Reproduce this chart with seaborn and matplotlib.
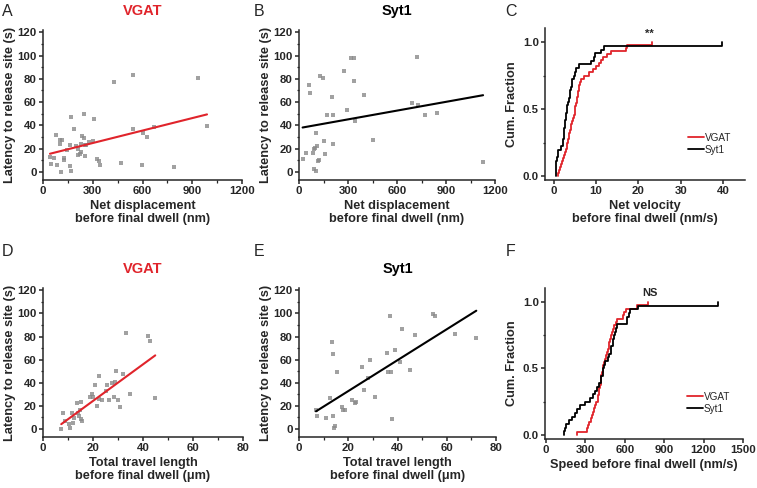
import matplotlib
matplotlib.use("Agg")
import matplotlib.pyplot as plt
from matplotlib.ticker import MultipleLocator
import seaborn as sns

# ---- data ----
# A: VGAT, net displacement (nm) vs latency (s)
vgat_disp = [42, 50, 68, 76, 86, 100, 102, 117, 110, 127, 127, 147, 163, 165, 169, 171,
             189, 199, 211, 211, 221, 231, 231, 235, 249, 251, 247, 251, 259, 277, 304,
             306, 324, 336, 346, 426, 470, 541, 545, 599, 601, 625, 669, 792, 935, 989]
vgat_lat_a = [12.6, 6.9, 11.7, 31.4, 6.0, 24.0, 27.7, 27.7, 0.3, 11.7, 10.3, 18.9, 23.0,
              4.9, 46.9, 0.9, 36.6, 22.3, 19.7, 14.6, 15.1, 17.0, 23.7, 30.9, 28.9, 13.7,
              49.4, 23.0, 23.0, 26.0, 26.9, 45.4, 11.1, 9.1, 6.0, 76.9, 7.4, 83.1, 36.9,
              6.0, 33.7, 29.7, 38.3, 4.0, 81.1, 39.4]

# B: Syt1, net displacement (nm) vs latency (s)
syt1_disp = [22, 43, 61, 70, 84, 94, 96, 104, 112, 92, 104, 117, 121, 131, 145, 151, 159,
             172, 200, 209, 211, 274, 292, 319, 337, 337, 344, 401, 452, 689, 720, 728,
             769, 845, 1127]
syt1_lat_b = [10.7, 15.8, 74.6, 68.1, 16.1, 19.5, 20.6, 33.0, 22.0, 2.8, 0.8, 9.6, 10.5,
              82.5, 80.8, 26.6, 15.5, 48.9, 64.7, 48.9, 24.3, 86.4, 53.1, 97.5, 97.5, 78.5,
              43.8, 65.8, 27.7, 59.6, 99.2, 57.3, 48.6, 50.6, 8.5]

# C: net velocity (nm/s)
vgat_vel = [1.0, 1.2, 1.5, 1.7, 1.9, 2.2, 2.4, 2.6, 2.8, 3.0, 3.2, 3.35, 3.5, 3.65, 3.8,
            3.95, 4.1, 4.3, 4.5, 4.7, 4.9, 5.0, 5.1, 5.2, 5.35, 5.5, 5.65, 5.8, 5.9, 6.0,
            6.15, 6.3, 7.1, 8.3, 9.3, 9.9, 10.7, 11.1, 11.5, 12.5, 13.4, 17.0, 17.4, 23.1]
syt1_vel = [0.45, 0.5, 0.55, 0.6, 0.8, 0.9, 1.0, 1.6, 2.1, 2.2, 2.3, 2.4, 2.5, 2.6, 2.7,
            2.75, 2.85, 3.0, 3.15, 3.3, 3.5, 3.7, 3.9, 4.1, 4.3, 4.4, 4.8, 5.0, 5.2, 6.0,
            8.8, 9.6, 9.7, 11.1, 11.8, 39.7]

# D: VGAT, total travel length (um) vs latency (s)
vgat_len = [7.3, 8.0, 8.9, 10.5, 10.8, 11.5, 12.1, 12.5, 13.5, 13.9, 14.4, 14.8, 15.1, 15.1,
            15.5, 18.8, 19.6, 20.1, 20.9, 21.7, 22.3, 22.3, 23.5, 25.0, 25.7, 26.3, 27.7,
            28.4, 28.9, 29.3, 30.0, 30.8, 31.9, 33.2, 34.8, 42.0, 42.9, 44.9]
vgat_lat_d = [0.3, 13.4, 6.5, 4.5, 1.1, 14.0, 5.4, 9.7, 22.4, 13.9, 11.1, 16.2, 23.3, 8.5,
              6.8, 27.8, 30.4, 27.6, 38.0, 20.2, 45.5, 25.9, 24.7, 33.0, 38.0, 25.3, 39.5,
              27.8, 40.3, 50.3, 25.0, 19.3, 47.7, 82.7, 29.8, 80.7, 76.4, 26.4]

# E: Syt1, total travel length (um) vs latency (s)
syt1_len = [6.9, 7.3, 10.8, 12.6, 13.4, 13.8, 14.0, 14.2, 14.5, 15.6, 17.4, 17.8, 18.7,
            21.6, 22.8, 23.0, 25.6, 26.3, 28.1, 29.0, 30.8, 35.7, 36.3, 36.9, 37.3, 37.8,
            39.1, 41.1, 41.9, 44.9, 47.2, 54.5, 55.3, 63.4, 72.0]
syt1_lat_e = [16.0, 11.1, 9.4, 27.1, 75.1, 11.1, 65.1, 0.9, 2.9, 49.1, 19.1, 16.0, 16.6,
              24.9, 22.3, 23.1, 53.4, 33.4, 43.7, 60.0, 28.0, 66.0, 49.4, 98.0, 49.1, 8.9,
              68.6, 58.0, 86.9, 51.1, 81.1, 99.7, 98.0, 82.6, 79.1]

# F: speed before final dwell (nm/s)
vgat_speed = [234, 312, 318, 330, 340, 350, 357, 362, 375, 383, 392, 398, 403, 407, 411,
              415, 419, 422, 426, 430, 436, 441, 448, 457, 468, 474, 478, 482, 486, 491,
              500, 508, 518, 530, 540, 585, 592, 609, 690, 779]
syt1_speed = [137, 145, 155, 178, 198, 218, 239, 259, 297, 335, 355, 373, 391, 406, 415,
              422, 430, 437, 445, 452, 472, 482, 492, 498, 508, 512, 518, 523, 530, 538,
              614, 620, 630, 640, 700, 1312]

RED = "#e0242b"
GRAY = "#8a8a8a"

sns.set_style("ticks")
plt.rcParams["font.family"] = ["Liberation Sans", "DejaVu Sans"]
plt.rcParams["font.weight"] = "bold"
plt.rcParams["axes.labelweight"] = "bold"
plt.rcParams["axes.linewidth"] = 1.1
plt.rcParams["xtick.major.width"] = 1.1
plt.rcParams["ytick.major.width"] = 1.1
plt.rcParams["xtick.minor.width"] = 0.9
plt.rcParams["ytick.minor.width"] = 0.9
plt.rcParams["xtick.major.size"] = 3
plt.rcParams["ytick.major.size"] = 3
plt.rcParams["xtick.minor.size"] = 1.8
plt.rcParams["ytick.minor.size"] = 1.8
plt.rcParams["xtick.major.pad"] = 1.5
plt.rcParams["ytick.major.pad"] = 1.5
plt.rcParams["xtick.labelsize"] = 8.2
plt.rcParams["ytick.labelsize"] = 8.2
plt.rcParams["axes.labelsize"] = 9.2

W, H = 757, 488
fig = plt.figure(figsize=(W / 100, H / 100), dpi=100)


def px_axes(x0, x1, ytop, ybot):
    return fig.add_axes([x0 / W, 1 - ybot / H, (x1 - x0) / W, (ybot - ytop) / H])


def style(ax):
    sns.despine(ax=ax)
    for lab in ax.get_xticklabels() + ax.get_yticklabels():
        lab.set_fontweight("bold")


def scatter_panel(ax, x, y, color, xmax, xmajor, xminor, xlabel, title, tcolor):
    sns.regplot(x=x, y=y, ax=ax, ci=None, marker="s", truncate=True,
                scatter_kws=dict(s=9, color=GRAY, linewidths=0),
                line_kws=dict(color=color, lw=1.5))
    ax.set_xlim(0, xmax)
    ax.set_ylim(-7, 122)
    ax.xaxis.set_major_locator(MultipleLocator(xmajor))
    ax.xaxis.set_minor_locator(MultipleLocator(xminor))
    ax.yaxis.set_major_locator(MultipleLocator(20))
    ax.yaxis.set_minor_locator(MultipleLocator(10))
    ax.set_xlabel(xlabel, linespacing=1.1, labelpad=3)
    ax.set_ylabel("Latency to release site (s)", labelpad=1)
    ax.set_title(title, color=tcolor, fontsize=10.5, fontweight="bold", pad=11)
    style(ax)


def ecdf_panel(ax, vg, sy, xlim, xmajor, xlabel, note, note_x):
    sns.ecdfplot(x=vg, ax=ax, color=RED, lw=1.3, label="VGAT")
    sns.ecdfplot(x=sy, ax=ax, color="black", lw=1.3, label="Syt1")
    ax.set_xlim(*xlim)
    ax.set_ylim(-0.03, 1.105)
    ax.xaxis.set_major_locator(MultipleLocator(xmajor))
    ax.yaxis.set_major_locator(MultipleLocator(0.5))
    ax.yaxis.set_minor_locator(MultipleLocator(0.25))
    ax.yaxis.set_major_formatter(matplotlib.ticker.FormatStrFormatter("%.1f"))
    ax.set_xlabel(xlabel, linespacing=1.1, labelpad=3)
    ax.set_ylabel("Cum. Fraction", labelpad=3)
    ax.text(note_x, 1.065, note, ha="center", va="center", fontsize=8, fontweight="bold")
    ax.legend(loc="center left", bbox_to_anchor=(0.715, 0.24), frameon=False,
              handlelength=1.6, handletextpad=0.1, labelspacing=0.2,
              borderpad=0, borderaxespad=0, prop=dict(size=7.2, weight="normal"))
    style(ax)


axA = px_axes(43, 242, 30, 180)
scatter_panel(axA, vgat_disp, vgat_lat_a, RED, 1200, 300, 150,
              "Net displacement\nbefore final dwell (nm)", "VGAT", RED)
axB = px_axes(299, 495, 30, 180)
scatter_panel(axB, syt1_disp, syt1_lat_b, "black", 1200, 300, 150,
              "Net displacement\nbefore final dwell (nm)", "Syt1", "black")
axC = px_axes(545, 745, 28, 180)
ecdf_panel(axC, vgat_vel, syt1_vel, (-2.1, 45.2), 10,
           "Net velocity\nbefore final dwell (nm/s)", "**", 22.5)
axD = px_axes(43, 243, 288, 437)
scatter_panel(axD, vgat_len, vgat_lat_d, RED, 80, 20, 10,
              "Total travel length\nbefore final dwell (\u03bcm)", "VGAT", RED)
axE = px_axes(299, 496, 288, 437)
scatter_panel(axE, syt1_len, syt1_lat_e, "black", 80, 20, 10,
              "Total travel length\nbefore final dwell (\u03bcm)", "Syt1", "black")
axF = px_axes(545, 743, 288, 439)
ecdf_panel(axF, vgat_speed, syt1_speed, (-8, 1500), 300,
           "Speed before final dwell (nm/s)", "NS", 792)

# panel letters
for letter, x, y in [("A", 2, 16), ("B", 254, 16), ("C", 505, 16),
                     ("D", 2, 256), ("E", 254, 256), ("F", 506, 256)]:
    fig.text(x / W, 1 - y / H, letter, fontsize=11.5, fontweight="normal",
             ha="left", va="baseline")

fig.savefig("out.png", dpi=100)
